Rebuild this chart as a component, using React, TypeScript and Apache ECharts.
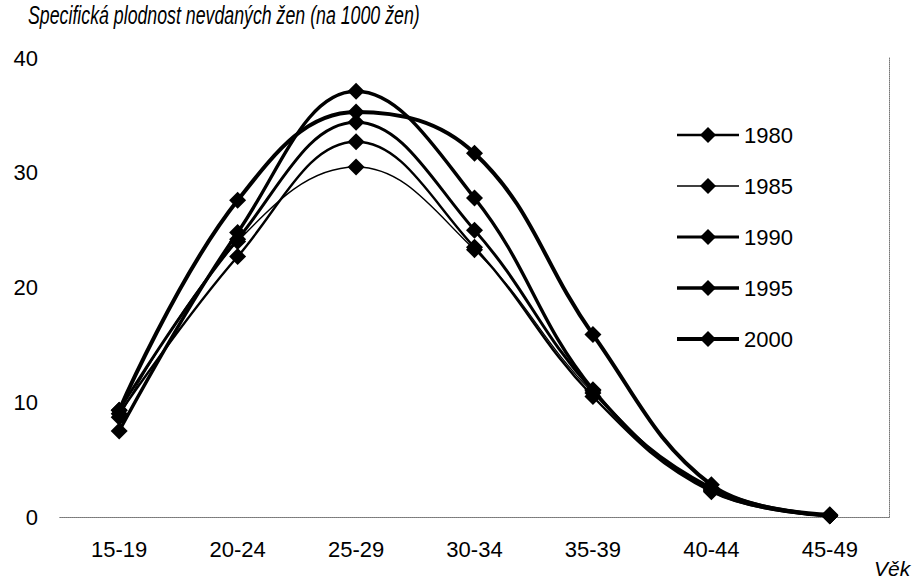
import React, { useEffect, useRef } from "react";
import * as echarts from "echarts";

const categories = ["15-19", "20-24", "25-29", "30-34", "35-39", "40-44", "45-49"];
const seriesNames = ["1980", "1985", "1990", "1995", "2000"];
const values1980 = [9.0, 22.7, 32.7, 23.5, 10.5, 2.2, 0.1];
const values1985 = [8.7, 24.0, 30.5, 23.3, 10.8, 2.4, 0.1];
const values1990 = [9.3, 24.2, 34.4, 25.0, 11.0, 2.3, 0.1];
const values1995 = [7.5, 24.8, 37.1, 27.8, 11.1, 2.5, 0.1];
const values2000 = [9.3, 27.6, 35.3, 31.7, 15.9, 2.8, 0.2];
const yTicks = [0, 10, 20, 30, 40];
const titleText = "Specifická plodnost nevdaných žen (na 1000 žen)";
const xAxisName = "Věk";

const FONT = "'Liberation Sans', Arial, Helvetica, sans-serif";

export default function App() {
  const ref = useRef<HTMLDivElement>(null);
  useEffect(() => {
    if (!ref.current) return;
    const chart = echarts.init(ref.current, null, { renderer: "svg" });

    const canvas = document.createElement("canvas");
    const ctx = canvas.getContext("2d");
    let titleScale = 0.8;
    if (ctx) {
      ctx.font = "italic 26px 'Liberation Sans'";
      const w = ctx.measureText(titleText).width;
      if (w > 0) titleScale = 392 / w;
    }

    const data = [values1980, values1985, values1990, values1995, values2000];
    const widths = [2.4, 1.3, 3, 3.4, 4];
    const legendWidths = [2.5, 1.3, 3, 3.3, 4];
    const dotted = { show: true, lineStyle: { color: "#777", type: "dotted" as const, width: 1 } };

    chart.setOption({
      animation: false,
      backgroundColor: "#fff",
      textStyle: { fontFamily: FONT, color: "#000" },
      grid: { left: 60, right: 30, top: 58, bottom: 66, containLabel: false },
      legend: {
        orient: "vertical",
        left: 670,
        top: 119,
        itemGap: 29,
        itemWidth: 62,
        itemHeight: 20,
        textStyle: { fontSize: 22, color: "#000", fontFamily: FONT },
        data: seriesNames.map((name, i) => ({
          name,
          lineStyle: { width: legendWidths[i], color: "#000" },
          itemStyle: { color: "#000" },
        })),
      },
      xAxis: [
        {
          type: "category",
          data: categories,
          boundaryGap: true,
          axisLine: dotted,
          axisTick: { show: false },
          axisLabel: { fontSize: 22, color: "#000", margin: 21, fontFamily: FONT },
          splitLine: { show: false },
        },
        {
          type: "category",
          data: categories,
          position: "top",
          axisLine: dotted,
          axisTick: { show: false },
          axisLabel: { show: false },
        },
      ],
      yAxis: [
        {
          type: "value",
          min: yTicks[0],
          max: yTicks[yTicks.length - 1],
          interval: 10,
          axisLine: { show: false },
          axisTick: { show: false },
          splitLine: { show: false },
          axisLabel: { fontSize: 22, color: "#000", margin: 22, fontFamily: FONT },
        },
        {
          type: "value",
          position: "right",
          min: yTicks[0],
          max: yTicks[yTicks.length - 1],
          interval: 10,
          axisLine: dotted,
          axisTick: { show: false },
          splitLine: { show: false },
          axisLabel: { show: false },
        },
      ],
      graphic: [
        {
          type: "text",
          x: 28,
          y: 2,
          scaleX: titleScale,
          style: {
            text: titleText,
            font: "italic 26px 'Liberation Sans'",
            fill: "#000",
            verticalAlign: "top",
          },
        },
        {
          type: "text",
          x: 874,
          y: 558,
          style: {
            text: xAxisName,
            font: "italic 21px 'Liberation Sans'",
            fill: "#000",
            verticalAlign: "top",
          },
        },
      ],
      series: seriesNames.map((name, i) => ({
        name,
        type: "line",
        data: data[i],
        smooth: 0.4,
        symbol: "diamond",
        symbolSize: 17,
        color: "#000",
        lineStyle: { color: "#000", width: widths[i] },
        itemStyle: { color: "#000" },
        z: 2 + i,
      })),
    });
    return () => chart.dispose();
  }, []);
  return <div ref={ref} style={{ width: 919, height: 583, position: "absolute", left: 0, top: 0 }} />;
}
